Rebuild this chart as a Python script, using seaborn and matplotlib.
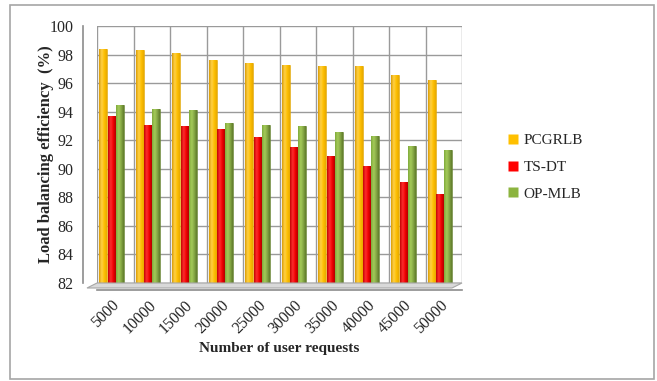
import numpy as np
import pandas as pd
import matplotlib
matplotlib.use("Agg")
import matplotlib.pyplot as plt
from matplotlib.colors import LinearSegmentedColormap, to_rgb
from matplotlib.lines import Line2D
from matplotlib.patches import Rectangle, Polygon
from matplotlib.transforms import ScaledTranslation
import seaborn as sns

requests = ["5000", "10000", "15000", "20000", "25000",
            "30000", "35000", "40000", "45000", "50000"]
pcgrlb = [98.4, 98.3, 98.1, 97.6, 97.4, 97.3, 97.2, 97.2, 96.6, 96.2]
ts_dt = [93.7, 93.1, 93.0, 92.8, 92.2, 91.5, 90.9, 90.2, 89.1, 88.2]
op_mlb = [94.5, 94.2, 94.1, 93.2, 93.1, 93.0, 92.6, 92.3, 91.6, 91.3]
methods = ["PCGRLB", "TS-DT", "OP-MLB"]
yticks = list(range(82, 101, 2))

colors = {"PCGRLB": "#FFC000", "TS-DT": "#FF0000", "OP-MLB": "#8CB43F"}
# cylinder shading: dark edge -> bright -> dark edge
shades = {
    "PCGRLB": ["#D99A00", "#FFD24A", "#FFC000", "#E6A800"],
    "TS-DT": ["#C00000", "#FF3030", "#F00000", "#B00000"],
    "OP-MLB": ["#7DA83A", "#A6CC5A", "#86A845", "#5E7A2A"],
}

df = pd.DataFrame({
    "requests": requests * 3,
    "method": [m for m in methods for _ in requests],
    "efficiency": pcgrlb + ts_dt + op_mlb,
})

sns.set_theme(style="white")
plt.rcParams["font.family"] = ["Liberation Serif", "DejaVu Serif"]

fig = plt.figure(figsize=(6.57, 3.81), dpi=100)
ax = fig.add_axes([97 / 657, 1 - 283 / 381, (462 - 97) / 657, (283 - 26) / 381])

# front axes sit a little in front of the back wall
for side in ["top", "right"]:
    ax.spines[side].set_visible(False)
ax.spines["left"].set_position(("outward", 10))
ax.spines["bottom"].set_position(("outward", 5))
for side in ["left", "bottom"]:
    ax.spines[side].set_color("#8C8C8C")
    ax.spines[side].set_linewidth(1.2)

sns.barplot(data=df, x="requests", y="efficiency", hue="method",
            hue_order=methods, palette=colors, width=0.68, gap=0.05,
            ax=ax, legend=False, zorder=3, errorbar=None)

n = len(requests)
xlo, xhi = -0.4, n - 0.4

# shaded fill clipped to each bar
for patch in list(ax.patches):
    h = patch.get_height()
    if not np.isfinite(h) or h == 0:
        continue
    col = patch.get_facecolor()[:3]
    key = min(colors, key=lambda k: np.sum((np.array(to_rgb(colors[k])) - np.array(col)) ** 2))
    cmap = LinearSegmentedColormap.from_list(key, shades[key])
    x0 = patch.get_x()
    w = patch.get_width()
    grad = np.linspace(0, 1, 64).reshape(1, -1)
    im = ax.imshow(grad, cmap=cmap, aspect="auto", extent=[x0, x0 + w, 82, patch.get_y() + h],
                   zorder=3.5, interpolation="bicubic")
    im.set_clip_path(patch)
    patch.set_edgecolor(shades[key][3])
    patch.set_linewidth(0.4)

ax.set_ylim(82, 100)
ax.set_xlim(xlo, xhi)

ax.set_yticks(yticks)
ax.set_yticklabels([str(t) for t in yticks], fontsize=11.5)
ax.set_xticks(range(n))
ax.set_xticklabels(requests, rotation=45, ha="right", rotation_mode="anchor", fontsize=11.5)
ax.set_xticks(np.arange(xlo, xhi + 0.01, 1.0), minor=True)

ax.grid(False)
for y in yticks:
    ax.axhline(y, color="#9A9A9A", lw=1.0, zorder=1)
for x in np.arange(xlo, xhi + 0.01, 1.0):
    ax.axvline(x, color="#9A9A9A", lw=1.0, zorder=1)

ax.tick_params(axis="x", which="major", length=0, pad=5)
ax.tick_params(axis="x", which="minor", length=5, color="#8C8C8C", width=1, direction="out")
ax.tick_params(axis="y", length=5, color="#8C8C8C", width=1, direction="out", pad=2)

# floor between back wall and the front axis
off = ScaledTranslation(-10 / 100, -5 / 100, fig.dpi_scale_trans)
front = ax.transAxes + off
p_back = ax.transAxes.transform([(0, 0), (1, 0)])
p_front = front.transform([(1, 0), (0, 0)])
floor = Polygon(np.vstack([p_back, p_front]), closed=True, transform=None,
                facecolor="#D9D9D9", edgecolor="#A6A6A6", lw=0.8, zorder=0.5)
fig.add_artist(floor)

ax.set_xlabel("Number of user requests", fontsize=11, fontweight="bold", labelpad=4)
ax.set_ylabel("Load balancing efficiency  (%)", fontsize=12, fontweight="bold", labelpad=-3)

handles = [Line2D([0], [0], marker="s", linestyle="none", markersize=7,
                  markerfacecolor=colors[m], markeredgecolor="none") for m in methods]
fig.legend(handles, methods, loc="upper left", bbox_to_anchor=(0.75, 0.685),
           frameon=False, fontsize=11, handlelength=0.8, handletextpad=0.3,
           labelspacing=0.85)

# outer chart frame
fig.add_artist(Rectangle((10 / 657, 1 - 379 / 381), 644 / 657, 374 / 381,
                         transform=fig.transFigure, fill=False,
                         edgecolor="#A6A6A6", lw=1.2))

fig.savefig("out.png", dpi=100)
